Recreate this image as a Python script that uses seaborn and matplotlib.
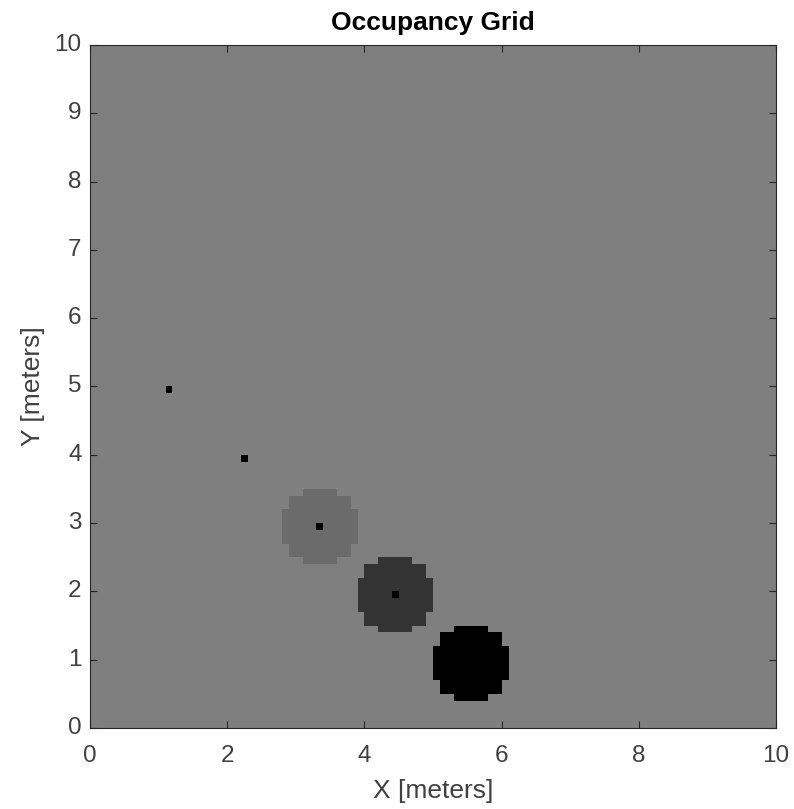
import numpy as np
import seaborn as sns
import matplotlib.pyplot as plt

# grid settings (cells per meter, map size in meters)
resolution = 10
map_size = 10

# circular obstacles: centres, radii and occupancy probability
circle_x = [3.35, 4.45, 5.55]
circle_y = [2.95, 1.95, 0.95]
circle_r = [0.575, 0.575, 0.575]
circle_p = [0.58, 0.80, 1.00]

# single occupied cells
point_x = [1.15, 2.25, 3.35, 4.45]
point_y = [4.95, 3.95, 2.95, 1.95]

xticks = [0, 2, 4, 6, 8, 10]
yticks = [0, 1, 2, 3, 4, 5, 6, 7, 8, 9, 10]

n = resolution * map_size
centers = (np.arange(n) + 0.5) / resolution
gx, gy = np.meshgrid(centers, centers)
grid = np.full((n, n), 0.5)
for cx, cy, r, p in zip(circle_x, circle_y, circle_r, circle_p):
    grid[(gx - cx) ** 2 + (gy - cy) ** 2 <= r ** 2] = p
for px, py in zip(point_x, point_y):
    grid[int(py * resolution), int(px * resolution)] = 1.0

sns.set_style('ticks')
plt.rcParams['font.family'] = ['Liberation Sans', 'DejaVu Sans']

fig = plt.figure(figsize=(7.94, 8.09), dpi=100)
ax = fig.add_axes([0.1134, 0.1001, 0.8640, 0.8443])
sns.heatmap(grid, cmap='gray_r', vmin=0, vmax=1, cbar=False, ax=ax)
ax.set_xlim(0, n)
ax.set_ylim(0, n)
ax.set_axisbelow(False)

ax.set_xticks([t * resolution for t in xticks])
ax.set_xticklabels(xticks, rotation=0)
ax.set_yticks([t * resolution for t in yticks])
ax.set_yticklabels(yticks, rotation=0)
ax.tick_params(direction='in', length=5, width=0.8, color='#262626',
               labelcolor='#404040', labelsize=17.5, top=True, right=True,
               bottom=True, left=True)
ax.tick_params(axis='x', pad=12)
ax.tick_params(axis='y', pad=6)
for s in ax.spines.values():
    s.set_visible(True)
    s.set_color('#262626')
    s.set_linewidth(0.8)

ax.set_xlabel('X [meters]', fontsize=19, color='#404040', labelpad=9)
ax.set_ylabel('Y [meters]', fontsize=19, color='#404040', labelpad=7)
ax.set_title('Occupancy Grid', fontsize=19, fontweight='bold', color='black', pad=11)

fig.savefig('out.png', dpi=100)
